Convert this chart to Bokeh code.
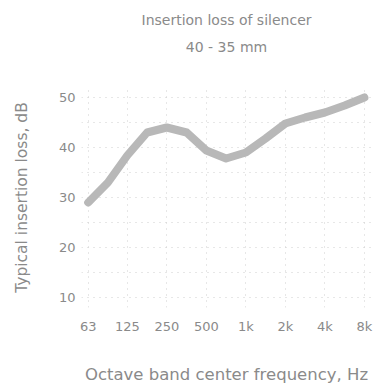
from bokeh.plotting import figure
from bokeh.models import FixedTicker, Title, Range1d, ColumnDataSource
from bokeh.embed import file_html
from bokeh.resources import INLINE

freq = [63, 89, 125, 177, 250, 354, 500, 707, 1000, 1414, 2000, 2828, 4000, 5657, 8000]
loss = [29.0, 33.0, 38.4, 43.0, 44.0, 43.0, 39.4, 37.8, 39.0, 41.8, 44.8, 46.0, 47.0, 48.4, 50.0]
x_ticks = [63, 125, 250, 500, 1000, 2000, 4000, 8000]
x_labels = ["63", "125", "250", "500", "1k", "2k", "4k", "8k"]
y_ticks = [10, 20, 30, 40, 50]
y_minor = [15, 25, 35, 45]
title_1 = "Insertion loss of silencer"
title_2 = "40 - 35 mm"

FONT = "DejaVu Sans"
TXT = "#8a8a8a"

p = figure(frame_width=290, frame_height=220, x_axis_type="log", output_backend="svg",
           toolbar_location=None, x_range=Range1d(56, 9060), y_range=Range1d(8, 52),
           min_border_left=72, min_border_right=4, min_border_bottom=73, min_border_top=79)
p.outline_line_color = None

# spacer nearest the frame, then the two title lines
p.add_layout(Title(text=" ", align="center", text_font=FONT, text_font_size="14px",
                   text_font_style="normal", text_color=TXT, standoff=15), "above")
p.add_layout(Title(text=title_2, align="center", text_font=FONT, text_font_size="14px",
                   text_font_style="normal", text_color=TXT, standoff=0), "above")
p.add_layout(Title(text=title_1, align="center", text_font=FONT, text_font_size="14px",
                   text_font_style="normal", text_color=TXT, standoff=18), "above")

src = ColumnDataSource(dict(x=freq, y=loss))
p.line("x", "y", source=src, line_width=8, line_color="#b8b8b8", line_cap="round", line_join="round")

p.xaxis.ticker = FixedTicker(ticks=x_ticks)
p.xaxis.major_label_overrides = {t: l for t, l in zip(x_ticks, x_labels)}
p.yaxis.ticker = FixedTicker(ticks=y_ticks, minor_ticks=y_minor)
p.xaxis.axis_label = "Octave band center frequency, Hz"
p.yaxis.axis_label = "Typical insertion loss, dB"
for ax in (p.xaxis, p.yaxis):
    ax.axis_line_color = None
    ax.major_tick_line_color = None
    ax.minor_tick_line_color = None
    ax.major_tick_out = 0
    ax.major_tick_in = 0
    ax.minor_tick_out = 0
    ax.minor_tick_in = 0
    ax.major_label_text_font = FONT
    ax.major_label_text_font_size = "13px"
    ax.major_label_text_color = TXT
    ax.axis_label_text_font = FONT
    ax.axis_label_text_font_style = "normal"
    ax.axis_label_text_color = TXT
p.xaxis.axis_label_text_font_size = "16.5px"
p.yaxis.axis_label_text_font_size = "15.5px"
p.xaxis.major_label_standoff = 11
p.xaxis.axis_label_standoff = 28
p.yaxis.major_label_standoff = 6
p.yaxis.axis_label_standoff = 25

# empty spacer at the far left so the y label sits a little inwards
p.add_layout(Title(text=" ", text_font=FONT, text_font_size="1px", standoff=6), "left")

p.xgrid.grid_line_color = "#cfcfcf"
p.xgrid.grid_line_dash = "1 5"
p.ygrid.grid_line_color = "#cfcfcf"
p.ygrid.grid_line_dash = "1 5"
p.ygrid.minor_grid_line_color = "#cfcfcf"
p.ygrid.minor_grid_line_dash = "1 5"

open("out.html", "w").write(file_html(p, INLINE))
